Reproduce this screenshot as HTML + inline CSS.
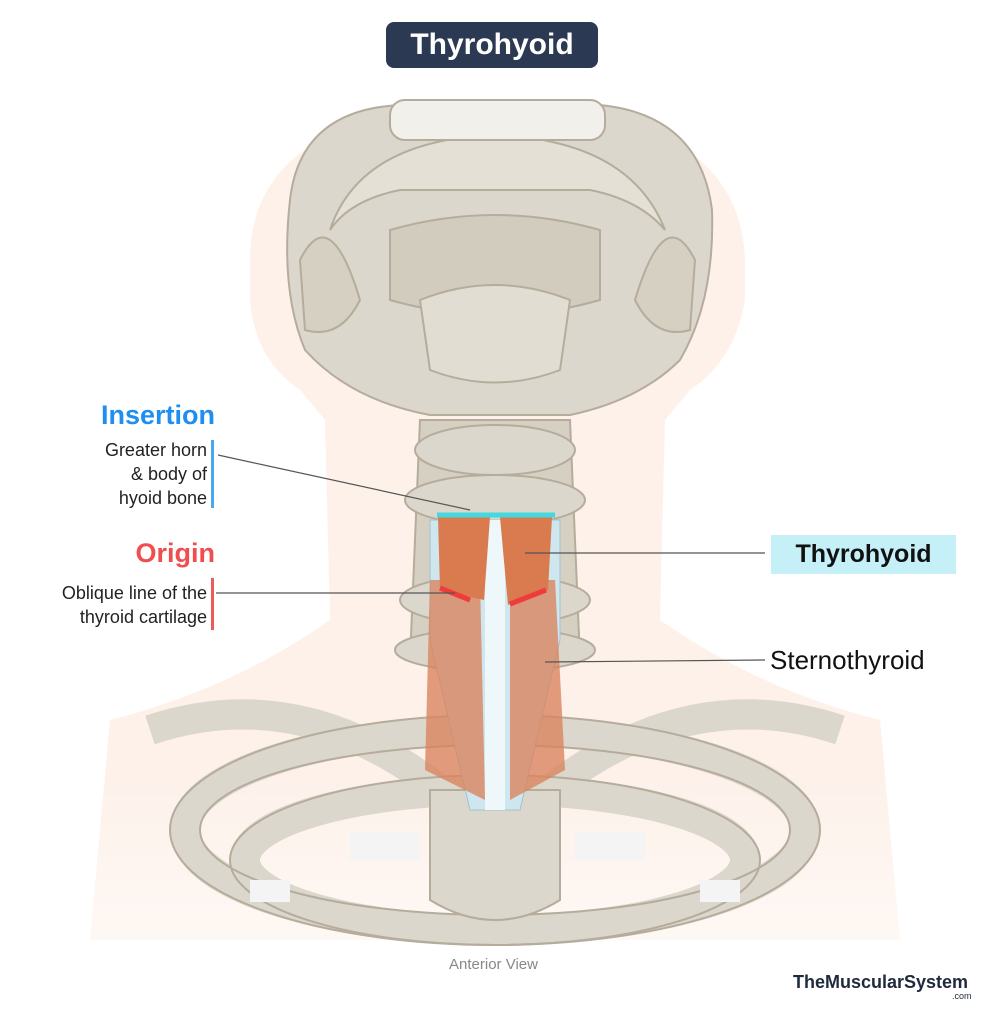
<!DOCTYPE html>
<html><head><meta charset="utf-8"><style>
body{margin:0;background:#fff;width:987px;height:1024px;overflow:hidden;position:relative;font-family:"Liberation Sans",sans-serif}
.t{position:absolute;white-space:nowrap}
</style></head><body>
<svg width="987" height="1024" style="position:absolute;left:0;top:0">
<defs><linearGradient id="sk" x1="0" y1="0" x2="0" y2="1"><stop offset="0" stop-color="#fdf1ea"/><stop offset="0.8" stop-color="#fdf1ea"/><stop offset="1" stop-color="#fef8f4"/></linearGradient></defs>
<!-- skin -->
<path d="M250 260 Q250 110 495 100 Q740 110 745 260 L745 300 Q735 360 690 390 L665 420 L660 620 Q760 690 880 720 L900 940 L90 940 L110 720 Q230 690 330 620 L325 420 L300 390 Q255 360 250 300Z" fill="url(#sk)"/>
<!-- skull -->
<g fill="#dcd7cc" stroke="#b5ac9c" stroke-width="2">
<path d="M290 200 Q300 110 400 105 L600 105 Q700 115 712 210 Q715 300 680 360 Q640 400 570 415 L430 415 Q350 400 305 350 Q280 290 290 200Z"/>
<path d="M330 230 Q360 140 495 135 Q630 140 665 230 Q640 200 590 190 L400 190 Q350 200 330 230Z" fill="#e4e0d6"/>
<path d="M390 230 Q495 200 600 230 L600 300 Q495 330 390 300Z" fill="#d2ccbe"/>
<rect x="390" y="100" width="215" height="40" rx="15" fill="#f2f0ea"/>
<path d="M420 300 Q495 270 570 300 L560 370 Q495 395 430 370Z" fill="#e2ddd2"/>
<path d="M300 260 Q330 200 360 300 Q340 340 305 330Z" fill="#d6d0c3"/>
<path d="M695 260 Q665 200 635 300 Q655 340 690 330Z" fill="#d6d0c3"/>
<path d="M420 420 L570 420 L580 660 L410 660Z" fill="#d6d0c3"/>
<ellipse cx="495" cy="450" rx="80" ry="25"/>
<ellipse cx="495" cy="500" rx="90" ry="25"/>
<ellipse cx="495" cy="600" rx="95" ry="25"/>
<ellipse cx="495" cy="650" rx="100" ry="22"/>
</g>
<!-- ribs / clavicles -->
<g fill="none" stroke-width="30">
<ellipse cx="495" cy="830" rx="310" ry="100" stroke="#dcd7cc"/>
<ellipse cx="495" cy="860" rx="250" ry="70" stroke="#dcd7cc"/>
<path d="M150 730 Q300 680 440 790" stroke="#dcd7cc"/>
<path d="M840 730 Q690 680 550 790" stroke="#dcd7cc"/>
</g>
<g fill="none" stroke="#b5ac9c" stroke-width="2">
<ellipse cx="495" cy="830" rx="325" ry="115"/>
<ellipse cx="495" cy="830" rx="295" ry="85"/>
<ellipse cx="495" cy="860" rx="265" ry="85"/>
</g>
<path d="M430 790 L560 790 L560 900 Q495 940 430 900Z" fill="#dcd7cc" stroke="#b5ac9c" stroke-width="2"/>
<g fill="#f4f4f4"><rect x="350" y="832" width="70" height="28"/><rect x="575" y="832" width="70" height="28"/><rect x="250" y="880" width="40" height="22"/><rect x="700" y="880" width="40" height="22"/></g>
<!-- larynx -->
<path d="M430 520 L560 520 L560 640 L520 810 L470 810 L430 640Z" fill="#cfe6ee" stroke="#9fc3d0"/>
<rect x="485" y="520" width="20" height="290" fill="#eef7fa"/>
<path d="M430 580 L480 580 L485 800 L425 770Z" fill="#d9845f" opacity=".8"/>
<path d="M510 580 L555 580 L565 770 L510 800Z" fill="#d9845f" opacity=".8"/>
<path d="M438 517 L490 517 L484 600 L440 590Z" fill="#d97a4f"/>
<path d="M500 517 L552 517 L548 590 L508 605Z" fill="#d97a4f"/>
<path d="M437 515 L555 515" stroke="#45d8e0" stroke-width="5"/>
<path d="M440 588 L470 600" stroke="#ee3b3b" stroke-width="5"/>
<path d="M510 604 L546 590" stroke="#ee3b3b" stroke-width="5"/>
<g stroke="#555" stroke-width="1.2">
<line x1="218" y1="455" x2="470" y2="510"/>
<line x1="216" y1="593" x2="455" y2="593"/>
<line x1="765" y1="553" x2="525" y2="553"/>
<line x1="765" y1="660" x2="545" y2="662"/>
</g>
<rect x="211" y="440" width="3" height="68" fill="#4aa8ef"/>
<rect x="211" y="578" width="3" height="52" fill="#f05a5a"/>
</svg>
<div class="t" style="left:386px;top:22px;width:212px;height:46px;background:#2b3a52;border-radius:8px;color:#fff;font-weight:bold;font-size:30px;line-height:46px;text-align:center">Thyrohyoid</div>
<div class="t" style="left:60px;top:400px;width:155px;text-align:right;color:#1e8ff0;font-weight:bold;font-size:27px">Insertion</div>
<div class="t" style="left:40px;top:438px;width:167px;text-align:right;color:#222;font-size:18px;line-height:24px">Greater horn<br>&amp; body of<br>hyoid bone</div>
<div class="t" style="left:60px;top:538px;width:155px;text-align:right;color:#f04e4e;font-weight:bold;font-size:27px">Origin</div>
<div class="t" style="left:0;top:581px;width:207px;text-align:right;color:#222;font-size:18px;line-height:24px">Oblique line of the<br>thyroid cartilage</div>
<div class="t" style="left:771px;top:535px;width:185px;height:39px;background:#c6f0f8;font-weight:bold;font-size:25px;line-height:39px;text-align:center;color:#111">Thyrohyoid</div>
<div class="t" style="left:770px;top:645px;font-size:26px;color:#111">Sternothyroid</div>
<div class="t" style="left:0;width:987px;top:956px;text-align:center;color:#888;font-size:15px">Anterior View</div>
<div class="t" style="left:793px;top:972px;font-weight:bold;font-size:18px;color:#1f2a3c">TheMuscularSystem</div>
<div class="t" style="left:952px;top:991px;font-size:9px;color:#1f2a3c">.com</div>
</body></html>
